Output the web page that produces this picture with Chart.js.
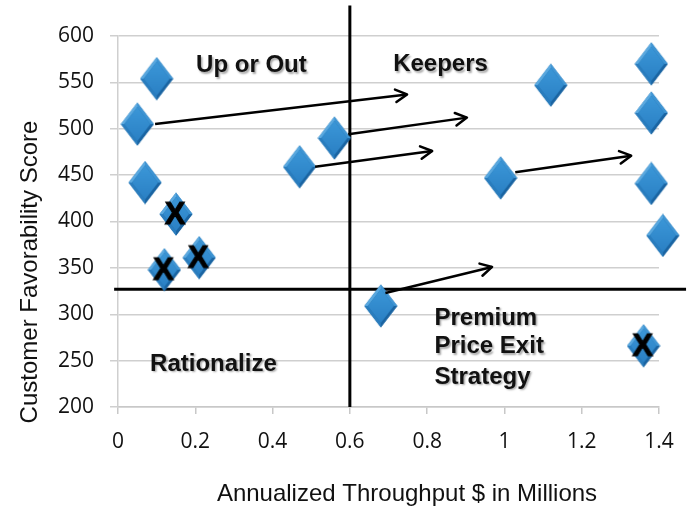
<!DOCTYPE html>
<html>
<head>
<meta charset="utf-8">
<script src="https://cdn.jsdelivr.net/npm/chart.js@4/dist/chart.umd.min.js"></script>
<style>
  html, body { margin: 0; padding: 0; background: #fff; }
  #wrap { width: 700px; height: 520px; }
</style>
</head>
<body>
<div id="wrap"><canvas id="chart" width="700" height="520"></canvas></div>
<script>
// products kept in play
const diamondX = [0.10, 0.05, 0.07, 0.47, 0.56, 1.12, 1.38, 1.38, 0.99, 1.38, 1.41, 0.68];
const diamondY = [554, 505, 442, 459, 490, 547, 570, 517, 447, 441, 385, 309];
// products marked for exit (X)
const exitX = [0.15, 0.12, 0.21, 1.36];
const exitY = [408, 348, 361, 266];
// arrows: start -> end
const arrowFromX = [0.096, 0.596, 0.51, 1.028, 0.692];
const arrowFromY = [505, 494, 459, 453, 323];
const arrowToX = [0.748, 0.903, 0.813, 1.328, 0.968];
const arrowToY = [537, 512, 476, 471, 351];
// quadrant split lines
const splitX = 0.6;
const splitY = 327;
const vLineY = [200, 633];
const hLineX = [-0.01, 1.47];
// axis ticks
const xTicks = ['0', '0.2', '0.4', '0.6', '0.8', '1', '1.2', '1.4'];
const yTicks = ['200', '250', '300', '350', '400', '450', '500', '550', '600'];

const quadLabels = [
  { text: 'Up or Out', x: 0.202, y: 568 },
  { text: 'Keepers', x: 0.712, y: 569 },
  { text: 'Rationalize', x: 0.083, y: 246 },
  { text: 'Premium', x: 0.819, y: 296 },
  { text: 'Price Exit', x: 0.819, y: 265 },
  { text: 'Strategy', x: 0.819, y: 232 }
];

function makeDiamond(withX) {
  const w = 34, h = 44;
  const c = document.createElement('canvas');
  c.width = w; c.height = h;
  const g = c.getContext('2d');
  const cx = w / 2, cy = h / 2, ix = 4, iy = 5;
  const facet = (pts, col) => {
    g.beginPath();
    g.moveTo(pts[0][0], pts[0][1]);
    for (let i = 1; i < pts.length; i++) g.lineTo(pts[i][0], pts[i][1]);
    g.closePath();
    g.fillStyle = col;
    g.fill();
  };
  const T = [cx, 0.5], R = [w - 0.5, cy], B = [cx, h - 0.5], L = [0.5, cy];
  const t = [cx, iy], r = [w - ix, cy], b = [cx, h - iy], l = [ix, cy];
  facet([T, R, B, L], '#1d6aa8');
  facet([L, T, t, l], '#5aa9e0');
  facet([T, R, r, t], '#3f95d4');
  facet([R, B, b, r], '#1a64a2');
  facet([B, L, l, b], '#2a7dbe');
  const grad = g.createLinearGradient(0, iy, 0, h - iy);
  grad.addColorStop(0, '#3b97d8');
  grad.addColorStop(1, '#2a80c4');
  facet([t, r, b, l], grad);
  if (withX) {
    g.fillStyle = '#000';
    g.font = 'bold 31px "Liberation Sans", Arial, sans-serif';
    g.textAlign = 'center';
    g.textBaseline = 'middle';
    g.lineWidth = 1;
    g.strokeStyle = '#000';
    g.fillText('X', cx - 1, cy + 1);
    g.strokeText('X', cx - 1, cy + 1);
  }
  return c;
}

const diamondImg = makeDiamond(false);
const exitImg = makeDiamond(true);

const arrowSets = arrowFromX.map((x0, i) => ({
  type: 'line',
  data: [{ x: x0, y: arrowFromY[i] }, { x: arrowToX[i], y: arrowToY[i] }],
  showLine: true,
  borderColor: '#000',
  borderWidth: 2.5,
  pointRadius: 0,
  fill: false,
  clip: false,
  isArrow: true
}));

const arrowHeads = {
  id: 'arrowHeads',
  afterDatasetsDraw(chart) {
    const ctx = chart.ctx;
    chart.data.datasets.forEach((ds, i) => {
      if (!ds.isArrow) return;
      const pts = chart.getDatasetMeta(i).data;
      const a = pts[0], b = pts[1];
      const ang = Math.atan2(b.y - a.y, b.x - a.x);
      const len = 13, spread = 0.5;
      ctx.save();
      ctx.strokeStyle = '#000';
      ctx.lineWidth = 2.5;
      ctx.lineCap = 'round';
      ctx.lineJoin = 'round';
      ctx.beginPath();
      ctx.moveTo(b.x - len * Math.cos(ang - spread), b.y - len * Math.sin(ang - spread));
      ctx.lineTo(b.x, b.y);
      ctx.lineTo(b.x - len * Math.cos(ang + spread), b.y - len * Math.sin(ang + spread));
      ctx.stroke();
      ctx.restore();
    });
  }
};

const textLayer = {
  id: 'textLayer',
  afterDraw(chart) {
    const ctx = chart.ctx;
    const xs = chart.scales.x, ys = chart.scales.y;
    ctx.save();
    ctx.font = 'bold 24px "Liberation Sans", Arial, sans-serif';
    ctx.fillStyle = '#111';
    ctx.textAlign = 'left';
    ctx.textBaseline = 'middle';
    ctx.shadowColor = 'rgba(0,0,0,0.35)';
    ctx.shadowOffsetX = 1.5;
    ctx.shadowOffsetY = 1.5;
    ctx.shadowBlur = 2;
    quadLabels.forEach(q => {
      ctx.fillText(q.text, xs.getPixelForValue(q.x), ys.getPixelForValue(q.y));
    });
    ctx.restore();

    // axis titles
    ctx.save();
    ctx.font = '24px "Liberation Sans", Arial, sans-serif';
    ctx.fillStyle = '#111';
    ctx.textAlign = 'center';
    ctx.textBaseline = 'middle';
    ctx.fillText('Annualized Throughput $ in Millions', 407, 494);
    ctx.translate(30, 272);
    ctx.rotate(-Math.PI / 2);
    ctx.fillText('Customer Favorability Score', 0, 0);
    ctx.restore();
  }
};

new Chart(document.getElementById('chart'), {
  type: 'scatter',
  data: {
    datasets: [
      {
        label: 'Exit',
        data: exitX.map((x, i) => ({ x, y: exitY[i] })),
        pointStyle: exitImg,
        pointRadius: 16,
        clip: false
      },
      ...arrowSets,
      {
        label: 'Products',
        data: diamondX.map((x, i) => ({ x, y: diamondY[i] })),
        pointStyle: diamondImg,
        pointRadius: 16,
        clip: false
      },
      {
        type: 'line',
        data: vLineY.map(y => ({ x: splitX, y })),
        showLine: true,
        borderColor: '#000',
        borderWidth: 3,
        pointRadius: 0,
        clip: false
      },
      {
        type: 'line',
        data: hLineX.map(x => ({ x, y: splitY })),
        showLine: true,
        borderColor: '#000',
        borderWidth: 3,
        pointRadius: 0,
        clip: false
      }
    ]
  },
  options: {
    responsive: false,
    animation: false,
    layout: { padding: { top: 36, right: 41, left: 0, bottom: 0 } },
    plugins: {
      legend: { display: false },
      tooltip: { enabled: false }
    },
    scales: {
      x: {
        type: 'linear',
        min: 0,
        max: 1.4,
        afterFit: s => { s.height = 113; },
        ticks: {
          stepSize: 0.2,
          padding: 15,
          color: '#111',
          font: { family: '"Open Sans", sans-serif', size: 21 },
          callback: (v, i) => xTicks[i]
        },
        grid: { drawOnChartArea: false, tickLength: 7, color: '#c8c8c8', lineWidth: 1.5 },
        border: { color: '#c8c8c8', width: 1.5 }
      },
      y: {
        min: 200,
        max: 600,
        afterFit: s => { s.width = 118; },
        ticks: {
          stepSize: 50,
          padding: 16,
          color: '#111',
          font: { family: '"Open Sans", sans-serif', size: 21 },
          callback: (v, i) => yTicks[i]
        },
        grid: { tickLength: 8, color: '#cfcfcf', lineWidth: 1.5 },
        border: { color: '#cfcfcf', width: 1.5 }
      }
    }
  },
  plugins: [arrowHeads, textLayer]
});
</script>
</body>
</html>
